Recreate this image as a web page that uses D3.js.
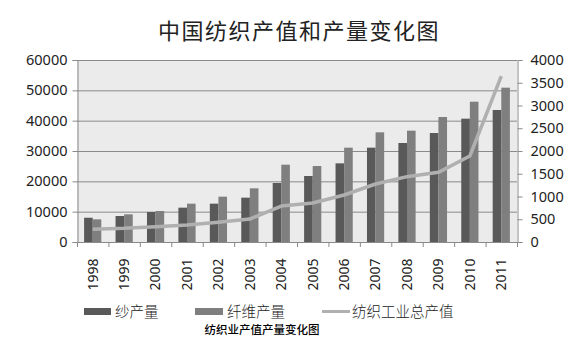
<!DOCTYPE html>
<html><head><meta charset="utf-8">
<script src="https://cdn.jsdelivr.net/npm/d3@7"></script>
<style>body{margin:0;background:#fff}svg{display:block}</style>
</head><body><svg id="c" width="581" height="347"></svg>
<script>
const years = ["1998","1999","2000","2001","2002","2003","2004","2005","2006","2007","2008","2009","2010","2011"];
const yarn = [8000,8570,9890,11320,12640,14620,19450,21760,25930,31100,32640,35930,40660,43520];
const fiber = [7470,9120,10220,12640,14950,17690,25490,25050,31100,36150,36700,41210,46260,50880];
const output = [279,300,337,374,432,505,791,857,1033,1275,1436,1531,1890,3648];
const leftTicks = [0,10000,20000,30000,40000,50000,60000];
const rightTicks = [0,500,1000,1500,2000,2500,3000,3500,4000];
const seriesNames = ["纱产量","纤维产量","纺织工业总产值"];
const title = "中国纺织产值和产量变化图";
const subtitle = "纺织业产值产量变化图";

const svg = d3.select("#c");
const L=77, R=517, T=60, B=242;
const font = "'Noto Sans','Noto Sans CJK SC',sans-serif";
const cjk = "'Noto Sans CJK SC','Noto Sans',sans-serif";

const x = d3.scaleBand().domain(years).range([L,R]).paddingInner(0).paddingOuter(0);
const yL = d3.scaleLinear().domain([0,60000]).range([B,T]);
const yR = d3.scaleLinear().domain([0,4000]).range([B,T]);

svg.append("rect").attr("x",L).attr("y",T).attr("width",R-L).attr("height",B-T).attr("fill","#ebebeb");

// gridlines
svg.append("g").selectAll("line").data(leftTicks.slice(1)).join("line")
  .attr("x1",L).attr("x2",R).attr("y1",d=>yL(d)+0.5).attr("y2",d=>yL(d)+0.5)
  .attr("stroke","#8a8a8a").attr("stroke-width",1);

// bars
const bw = 8.6;
const g = svg.append("g");
g.selectAll(".b1").data(years).join("rect")
  .attr("x",(d,i)=>x(d)+x.bandwidth()/2-bw).attr("width",bw)
  .attr("y",(d,i)=>yL(yarn[i])).attr("height",(d,i)=>B-yL(yarn[i]))
  .attr("fill","#595959");
g.selectAll(".b2").data(years).join("rect")
  .attr("x",(d,i)=>x(d)+x.bandwidth()/2).attr("width",bw)
  .attr("y",(d,i)=>yL(fiber[i])).attr("height",(d,i)=>B-yL(fiber[i]))
  .attr("fill","#7f7f7f");

// line
svg.append("path").datum(output)
  .attr("d",d3.line().x((d,i)=>x(years[i])+x.bandwidth()/2).y(d=>yR(d)))
  .attr("fill","none").attr("stroke","#b0b0b0").attr("stroke-width",3.5).attr("stroke-linejoin","round");

// axes
const axL = svg.append("g").attr("transform",`translate(${L+0.5},0)`)
  .call(d3.axisLeft(yL).tickValues(leftTicks).tickSize(5).tickPadding(5).tickFormat(d3.format("d")));
const axR = svg.append("g").attr("transform",`translate(${R+0.5},0)`)
  .call(d3.axisRight(yR).tickValues(rightTicks).tickSize(5).tickPadding(8).tickFormat(d3.format("d")));
const axB = svg.append("g").attr("transform",`translate(0,${B+0.5})`)
  .call(d3.axisBottom(x).tickSize(0).tickPadding(0));
// category boundary ticks
svg.append("g").selectAll("line").data(years.concat(["end"])).join("line")
  .attr("x1",(d,i)=>L+i*x.step()+0.5).attr("x2",(d,i)=>L+i*x.step()+0.5)
  .attr("y1",B).attr("y2",B+5).attr("stroke","#8a8a8a");

[axL,axR,axB].forEach(a=>{
  a.selectAll("path.domain").attr("stroke","#8a8a8a");
  a.selectAll(".tick line").attr("stroke","#8a8a8a");
  a.selectAll("text").attr("font-family",font).attr("font-size","14.5px").attr("fill","#222");
});
axB.select("path.domain").attr("d",`M${L},0H${R}`);
axB.selectAll(".tick text").attr("transform","rotate(-90)").attr("text-anchor","end")
  .attr("x",-16).attr("y",0).attr("dy","0.35em").attr("font-size","14px");

// title
svg.append("text").attr("x",299).attr("y",39).attr("text-anchor","middle")
  .attr("font-family",cjk).attr("font-size","22px").attr("letter-spacing","1.5px").attr("fill","#222").text(title);

// legend
const lg = svg.append("g");
const lx = [84,195,322];
lg.append("rect").attr("x",lx[0]).attr("y",308).attr("width",27).attr("height",7).attr("fill","#595959");
lg.append("rect").attr("x",lx[1]).attr("y",308).attr("width",28).attr("height",7).attr("fill","#7f7f7f");
lg.append("line").attr("x1",lx[2]).attr("x2",lx[2]+28).attr("y1",311.5).attr("y2",311.5).attr("stroke","#b0b0b0").attr("stroke-width",3);
const tx = [115,227,352];
lg.selectAll("text").data(seriesNames).join("text")
  .attr("x",(d,i)=>tx[i]).attr("y",312).attr("dy","0.35em")
  .attr("font-family",cjk).attr("font-size","14.5px").attr("font-weight",300).attr("fill","#222").text(d=>d);

svg.append("text").attr("x",262).attr("y",330).attr("dy","0.35em").attr("text-anchor","middle")
  .attr("font-family",cjk).attr("font-size","11.5px").attr("font-weight",500).attr("fill","#000").text(subtitle);
</script></body></html>
